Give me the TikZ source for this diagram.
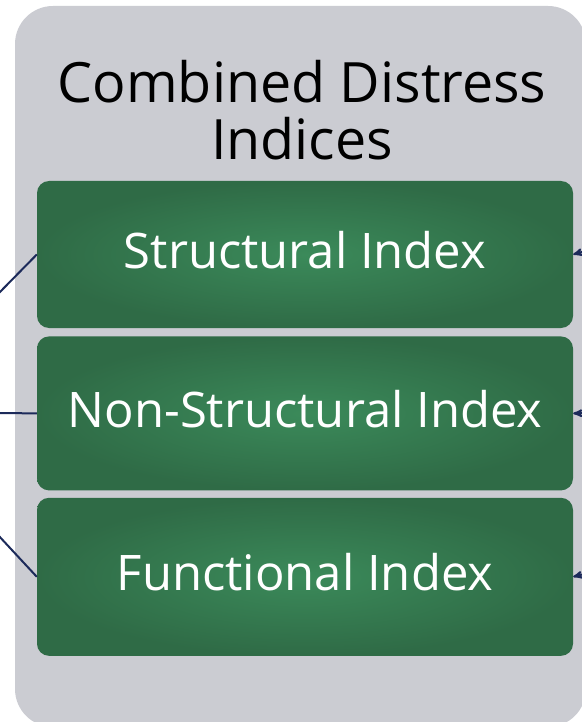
\documentclass[tikz,border=0pt]{standalone}
\usepackage{fontspec}
\setmainfont{Open Sans}
\usetikzlibrary{positioning,arrows}
\definecolor{panelgray}{HTML}{CBCCD2}
\definecolor{boxgreen}{HTML}{2F6B46}
\definecolor{boxlight}{HTML}{3B8A5A}
\definecolor{linknavy}{HTML}{1C2A5A}

\begin{document}
\begin{tikzpicture}[x=1pt,y=-1pt,>=stealth',
		index/.style={rounded corners=12pt,shading=radial,inner color=boxlight,outer color=boxgreen,
			minimum width=536pt,text=white,font=\fontsize{49}{58}\selectfont,inner sep=0pt,text depth=10pt},
		link/.style={draw=linknavy,line width=2pt}]
			\useasboundingbox (0,0) rectangle (581,722);
			\fill[panelgray,rounded corners=38pt] (15,6) rectangle (586,727);

			\node[align=center,font=\fontsize{55.6}{57}\selectfont,inner sep=0pt] (title) at (302,110) {Combined Distress\\Indices};
			\node[index,minimum height=147pt] (struct) at (305,254.5) {Structural Index};
			\node[index,minimum height=154pt] (nonstruct) [below=8pt of struct] {Non-Structural Index};
			\node[index,minimum height=158pt] (func) [below=7pt of nonstruct] {Functional Index};

			\coordinate (l1) at (-2,294);
			\coordinate (l2) at (-2,413);
			\coordinate (l3) at (-2,535);
			\coordinate (r1) at (592,249);
			\coordinate (r2) at (592,413);
			\coordinate (r3) at (592,572);

			\draw[link] (l1) -- (struct.west)
					(l2) -- (nonstruct.west)
					(l3) -- (func.west);
			\draw[link,->] (r1) -- (struct.east);
			\draw[link,->] (r2) -- (nonstruct.east);
			\draw[link,->] (r3) -- (func.east);
\end{tikzpicture}
\end{document}
